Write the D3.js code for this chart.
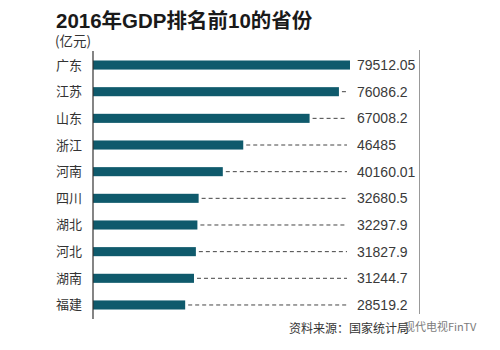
<!DOCTYPE html>
<html><head><meta charset="utf-8">
<script src="https://cdn.jsdelivr.net/npm/d3@7"></script>
<style>body{margin:0;background:#fff}svg{display:block}</style>
</head><body><svg id="c" width="500" height="350"></svg>
<script>
const provinces = ["广东","江苏","山东","浙江","河南","四川","湖北","河北","湖南","福建"];
const gdp = [79512.05,76086.2,67008.2,46485,40160.01,32680.5,32297.9,31827.9,31244.7,28519.2];
const valueLabels = ["79512.05","76086.2","67008.2","46485","40160.01","32680.5","32297.9","31827.9","31244.7","28519.2"];
const title = "2016年GDP排名前10的省份";
const unit = "(亿元)";
const source = "资料来源：国家统计局";
const watermark = "现代电视FinTV";

const svg = d3.select("#c");
const x0 = 93;
const x = d3.scaleLinear().domain([0, 79512.05]).range([x0, 350]);
const y = d3.scaleBand().domain(provinces).range([51.7, 318.3]).paddingInner(0.66).paddingOuter(0.33);
const font = "'Liberation Sans', Arial, 'Noto Sans CJK SC', sans-serif";
const cjk = "'Noto Sans CJK SC', 'Liberation Sans', sans-serif";

svg.append("text").attr("x", 56).attr("y", 28).text(title)
  .attr("font-family", font).attr("font-weight", "bold").attr("font-size", 20.5).attr("fill", "#1a1a1a");
svg.append("text").attr("x", 55).attr("y", 46).text(unit)
  .attr("font-family", cjk).attr("font-size", 13.5).attr("fill", "#333");

const rows = svg.append("g").selectAll("g").data(provinces).join("g");
const yc = d => y(d) + y.bandwidth() / 2;

rows.append("line")
  .attr("x1", (d, i) => x(gdp[i]) + 3).attr("x2", 347)
  .attr("y1", d => yc(d)).attr("y2", d => yc(d))
  .attr("stroke", "#444").attr("stroke-width", 1).attr("stroke-dasharray", "4,3")
  .attr("display", (d, i) => x(gdp[i]) + 3 < 347 ? null : "none");

rows.append("rect")
  .attr("x", x0).attr("y", d => y(d))
  .attr("width", (d, i) => x(gdp[i]) - x0).attr("height", y.bandwidth())
  .attr("fill", "#0f5a6c");

rows.append("text").attr("x", 82).attr("y", d => yc(d) + 4.5).attr("text-anchor", "end")
  .text(d => d).attr("font-family", cjk).attr("font-size", 13).attr("fill", "#333");

rows.append("text").attr("x", 357).attr("y", d => yc(d) + 5)
  .text((d, i) => valueLabels[i]).attr("font-family", font).attr("font-size", 14).attr("fill", "#3a3a3a");

svg.append("line").attr("x1", x0).attr("x2", x0).attr("y1", 51).attr("y2", 319)
  .attr("stroke", "#333").attr("stroke-width", 1.2);
svg.append("line").attr("x1", 419.5).attr("x2", 419.5).attr("y1", 50).attr("y2", 314)
  .attr("stroke", "#999").attr("stroke-width", 1);

svg.append("text").attr("x", 289).attr("y", 333).text(source)
  .attr("font-family", cjk).attr("font-size", 12).attr("fill", "#333");
svg.append("text").attr("x", 404).attr("y", 331).text(watermark)
  .attr("font-family", cjk).attr("font-size", 11).attr("fill", "#666").attr("opacity", 0.85);
</script></body></html>
